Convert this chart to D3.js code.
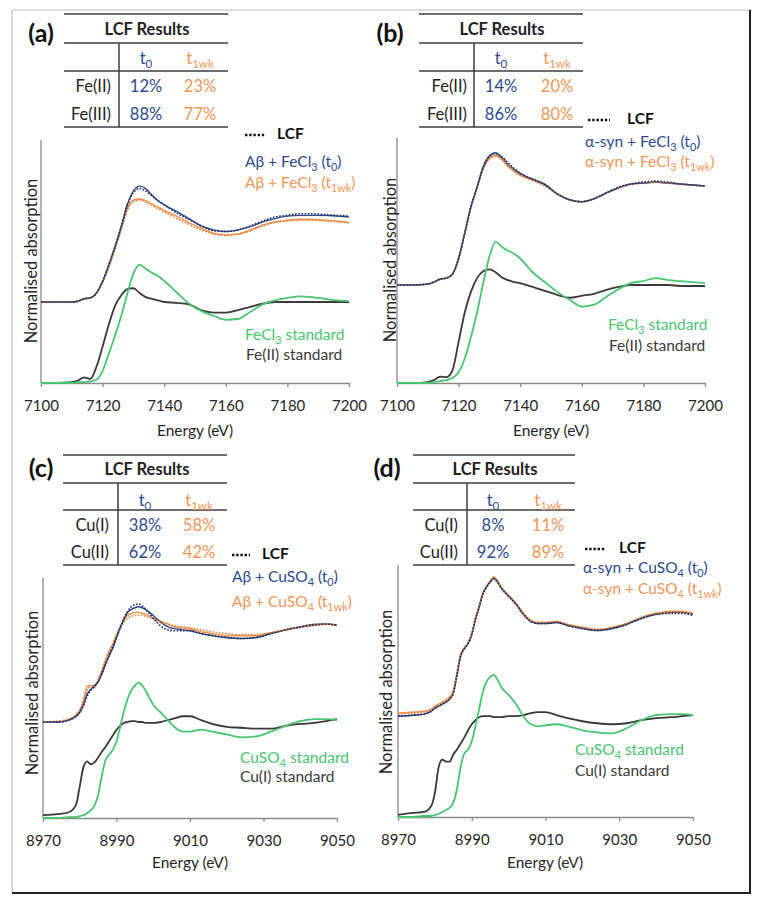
<!DOCTYPE html>
<html><head><meta charset="utf-8">
<script src="https://cdn.jsdelivr.net/npm/d3@7"></script>
<style>body{margin:0;background:#fff}svg{display:block;font-family:Lato,"Open Sans",sans-serif}</style>
</head><body><svg id="c" width="760" height="903"></svg>
<script>
// ---------- DATA ----------
const feEnergy = [7100,7105,7110,7112,7114,7116,7118,7120,7122,7124,7126,7128,7130,7132,7134,7136,7138,7140,7144,7148,7152,7156,7160,7164,7168,7172,7176,7180,7184,7188,7192,7196,7200];
const cuEnergy = [8970,8974,8977,8979,8980,8981,8982,8983,8984,8985,8986,8987,8988,8989,8990,8991,8992,8993,8994,8995,8996,8997,8998,9000,9002,9004,9006,9008,9010,9013,9016,9020,9024,9028,9032,9036,9040,9044,9047,9050];
const feTicks = [7100,7120,7140,7160,7180,7200];
const cuTicks = [8970,8990,9010,9030,9050];

// Panel (a) Aβ + FeCl3
const aFeII  = [0,0,0.01,0.03,0.07,0.05,0.2,0.45,0.72,0.95,1.08,1.16,1.17,1.11,1.06,1.04,1.02,1.0,0.99,0.97,0.9,0.87,0.87,0.9,0.94,0.98,1.0,1.0,1.0,1.0,1.0,1.0,1.0];
const aFeCl3 = [0,0,0,0.01,0.01,0.02,0.04,0.15,0.36,0.58,0.82,1.1,1.35,1.46,1.41,1.36,1.32,1.26,1.12,0.98,0.89,0.83,0.78,0.79,0.88,0.97,1.02,1.05,1.07,1.06,1.04,1.02,1.01];
const aT0    = [0,0,0,0.01,0.04,0.05,0.11,0.25,0.45,0.68,0.92,1.2,1.37,1.43,1.4,1.32,1.25,1.2,1.12,1.03,0.94,0.89,0.87,0.89,0.93,0.99,1.03,1.06,1.07,1.07,1.07,1.06,1.05];
const aT1wk  = [0,0,0,0.01,0.04,0.05,0.11,0.25,0.44,0.66,0.9,1.15,1.26,1.27,1.25,1.21,1.17,1.13,1.06,0.98,0.91,0.85,0.83,0.84,0.89,0.95,0.99,1.01,1.02,1.02,1.01,1.0,0.98];
const aFitT0 = [0,0,0,0.01,0.04,0.05,0.11,0.26,0.46,0.68,0.93,1.19,1.35,1.4,1.37,1.31,1.25,1.2,1.1,1.02,0.94,0.88,0.87,0.89,0.94,1.0,1.05,1.07,1.09,1.09,1.08,1.07,1.06];
const aFitT1 = [0,0,0,0.01,0.04,0.05,0.1,0.24,0.43,0.65,0.89,1.13,1.24,1.26,1.23,1.19,1.15,1.11,1.03,0.96,0.89,0.84,0.82,0.84,0.88,0.94,0.98,1.0,1.01,1.01,1.0,0.99,0.98];

// Panel (b) α-syn + FeCl3
const bFeII  = [0,0,0.01,0.03,0.065,0.06,0.13,0.42,0.72,0.93,1.07,1.14,1.16,1.13,1.08,1.05,1.03,1.02,0.98,0.94,0.9,0.87,0.89,0.91,0.95,0.98,1.0,1.0,1.0,1.0,0.99,0.99,0.99];
const bFeCl3 = [0,0,0,0.01,0.02,0.03,0.05,0.11,0.25,0.47,0.72,1.02,1.29,1.44,1.39,1.35,1.32,1.27,1.13,1.03,0.93,0.85,0.78,0.8,0.88,0.96,1.02,1.04,1.07,1.05,1.04,1.03,1.02];
const bT0    = [0,0,0.01,0.03,0.06,0.07,0.11,0.27,0.53,0.8,1.0,1.21,1.32,1.35,1.3,1.23,1.18,1.14,1.08,1.03,0.93,0.87,0.85,0.88,0.94,0.99,1.03,1.04,1.05,1.04,1.03,1.02,1.01];
const bT1wk  = [0,0,0.01,0.03,0.06,0.07,0.11,0.27,0.53,0.79,0.99,1.19,1.29,1.32,1.28,1.21,1.16,1.12,1.07,1.02,0.93,0.87,0.85,0.88,0.94,0.99,1.03,1.04,1.05,1.04,1.03,1.02,1.01];
const bFitT0 = [0,0,0.01,0.03,0.06,0.07,0.11,0.27,0.53,0.8,1.0,1.2,1.31,1.34,1.31,1.25,1.19,1.14,1.08,1.02,0.93,0.87,0.85,0.88,0.94,1.0,1.03,1.05,1.06,1.05,1.03,1.02,1.01];
const bFitT1 = [0,0,0.01,0.03,0.06,0.07,0.11,0.27,0.52,0.79,0.99,1.19,1.29,1.32,1.29,1.23,1.17,1.13,1.07,1.01,0.93,0.87,0.85,0.88,0.94,0.99,1.03,1.05,1.05,1.04,1.03,1.02,1.01];

// Panel (c) Aβ + CuSO4
const cCuI   = [0.03,0.04,0.06,0.14,0.33,0.53,0.59,0.56,0.58,0.63,0.69,0.74,0.8,0.86,0.92,0.96,0.99,1.0,1.01,1.01,1.0,1.0,0.99,0.99,1.0,1.02,1.04,1.06,1.06,1.02,0.98,0.95,0.94,0.93,0.93,0.96,0.98,0.99,1.01,1.03];
const cCuSO4 = [0,0,0.01,0.01,0.02,0.03,0.05,0.08,0.13,0.24,0.44,0.6,0.66,0.71,0.8,0.95,1.11,1.24,1.33,1.38,1.41,1.38,1.32,1.18,1.1,1.02,0.94,0.9,0.9,0.92,0.9,0.87,0.84,0.85,0.9,0.96,1.01,1.03,1.03,1.02];
const cT0    = [0,0,0.02,0.06,0.1,0.18,0.29,0.34,0.38,0.42,0.5,0.6,0.69,0.77,0.88,0.98,1.07,1.14,1.17,1.19,1.2,1.19,1.17,1.11,1.04,0.99,0.97,0.96,0.95,0.92,0.9,0.88,0.87,0.88,0.92,0.96,0.99,1.02,1.02,1.01];
const cT1wk  = [0,0,0.02,0.07,0.12,0.22,0.37,0.38,0.36,0.43,0.53,0.64,0.73,0.81,0.9,0.99,1.06,1.11,1.13,1.14,1.14,1.13,1.12,1.08,1.05,1.02,0.99,0.98,0.97,0.94,0.92,0.9,0.9,0.9,0.93,0.96,0.99,1.01,1.02,1.01];
const cFitT0 = [0,0,0.02,0.06,0.1,0.17,0.27,0.33,0.37,0.42,0.5,0.6,0.69,0.78,0.88,0.98,1.08,1.15,1.2,1.22,1.23,1.21,1.17,1.08,1.0,0.96,0.95,0.95,0.95,0.92,0.9,0.88,0.87,0.88,0.92,0.96,0.99,1.01,1.02,1.01];
const cFitT1 = [0,0.01,0.03,0.08,0.13,0.22,0.33,0.37,0.38,0.44,0.54,0.65,0.74,0.82,0.9,0.98,1.04,1.08,1.1,1.11,1.11,1.11,1.1,1.07,1.04,1.02,1.0,0.99,0.98,0.96,0.94,0.92,0.91,0.91,0.93,0.96,0.99,1.01,1.02,1.01];

// Panel (d) α-syn + CuSO4
const dCuI   = [0.02,0.04,0.05,0.11,0.24,0.49,0.57,0.55,0.55,0.62,0.67,0.73,0.79,0.86,0.92,0.96,0.99,1.0,1.0,1.0,0.99,0.99,0.99,1.0,1.0,1.01,1.03,1.04,1.04,1.01,0.98,0.95,0.93,0.92,0.93,0.96,0.98,0.99,1.0,1.01];
const dCuSO4 = [0,0,0.01,0.01,0.02,0.03,0.05,0.07,0.09,0.14,0.28,0.5,0.63,0.67,0.75,0.9,1.07,1.24,1.34,1.39,1.41,1.36,1.29,1.21,1.12,1.0,0.92,0.9,0.91,0.92,0.9,0.86,0.84,0.83,0.88,0.96,1.01,1.02,1.02,1.01];
const dT0    = [0.0,0.01,0.02,0.05,0.08,0.1,0.12,0.14,0.17,0.23,0.41,0.6,0.67,0.72,0.81,0.96,1.08,1.21,1.28,1.33,1.37,1.33,1.27,1.19,1.11,1.01,0.94,0.92,0.92,0.93,0.9,0.87,0.85,0.87,0.91,0.97,1.01,1.03,1.03,1.01];
const dT1wk  = [0.03,0.04,0.05,0.07,0.1,0.12,0.14,0.16,0.19,0.25,0.43,0.61,0.68,0.73,0.82,0.97,1.09,1.22,1.29,1.34,1.38,1.34,1.28,1.2,1.12,1.02,0.95,0.93,0.93,0.94,0.91,0.88,0.86,0.88,0.92,0.98,1.02,1.04,1.04,1.02];
const dFitT0 = [0.0,0.01,0.02,0.05,0.08,0.1,0.12,0.14,0.17,0.23,0.41,0.6,0.67,0.72,0.81,0.96,1.08,1.21,1.28,1.33,1.36,1.33,1.27,1.19,1.11,1.01,0.94,0.92,0.92,0.93,0.9,0.87,0.85,0.87,0.91,0.97,1.01,1.02,1.02,1.0];
const dFitT1 = [0.02,0.03,0.04,0.06,0.09,0.11,0.13,0.15,0.18,0.24,0.42,0.61,0.68,0.73,0.82,0.97,1.09,1.22,1.29,1.34,1.38,1.34,1.28,1.2,1.12,1.02,0.95,0.93,0.93,0.94,0.91,0.88,0.86,0.88,0.92,0.98,1.02,1.03,1.03,1.02];

// LCF result tables
const feRows = ["Fe(II)", "Fe(III)"];
const cuRows = ["Cu(I)", "Cu(II)"];
const aLcfT0 = ["12%", "88%"], aLcfT1 = ["23%", "77%"];
const bLcfT0 = ["14%", "86%"], bLcfT1 = ["20%", "80%"];
const cLcfT0 = ["38%", "62%"], cLcfT1 = ["58%", "42%"];
const dLcfT0 = ["8%", "92%"],  dLcfT1 = ["11%", "89%"];

// ---------- STYLE ----------
const NAVY = "#2c4a8e", ORANGE = "#f39556", GREEN = "#47c56f", DARK = "#3a3a3a", AXIS = "#8a8a8a";
const FS_LEG = 15.5, FS_TAB = 16.5, FS_TICK = 15, FS_AX = 15.5, FS_YLAB = 16.5;

const svg = d3.select("#c");

// outer frame
svg.append("line").attr("x1",12).attr("y1",10).attr("x2",750).attr("y2",10).attr("stroke","#bdbdbd").attr("stroke-width",1.2);
svg.append("line").attr("x1",12).attr("y1",10).attr("x2",12).attr("y2",893).attr("stroke","#bdbdbd").attr("stroke-width",1.2);
svg.append("line").attr("x1",750).attr("y1",10).attr("x2",750).attr("y2",894).attr("stroke","#222").attr("stroke-width",2);
svg.append("line").attr("x1",12).attr("y1",893).attr("x2",751).attr("y2",893).attr("stroke","#222").attr("stroke-width",2);

// helper: text with subscripts; parts = [[text, isSub], ...]
function richText(g, x, y, parts, opts) {
  const size = opts.size || FS_LEG;
  const t = g.append("text").attr("x", x).attr("y", y)
    .attr("font-size", size).attr("fill", opts.fill || "#222")
    .attr("font-weight", opts.weight || "normal")
    .attr("text-anchor", opts.anchor || "start");
  let sub = false;
  parts.forEach(([s, isSub]) => {
    const ts = t.append("tspan").text(s);
    if (isSub && !sub) { ts.attr("dy", 3.5).attr("font-size", size * 0.7); sub = true; }
    else if (!isSub && sub) { ts.attr("dy", -3.5); sub = false; }
    else if (isSub) ts.attr("font-size", size * 0.7);
  });
  return t;
}

const panels = [
  { label:"(a)", lx:41, ly:33, energy:feEnergy, ticks:feTicks, xd:[7100,7200], xr:[41,349], yd:[0,3], yr:[383,140],
    std1:aFeCl3, std2:aFeII, t0:aT0, t1:aT1wk, f0:aFitT0, f1:aFitT1,
    rows:feRows, v0:aLcfT0, v1:aLcfT1,
    tab:{x0:64,x1:228,xv:119,y:[14,43,71,127],tcx:147,tcy:29,hcy:58,c1:146,c2:200,rr:111,ry:[86,114]},
    ylab:[31,261], xlab:[195,436],
    leg:{dx:245,dx2:266,dy:133,lcfx:277,t0x:245,t0y:162,t1x:245,t1y:183,s1x:245,s1y:335,s2x:246,s2y:355},
    sample:"Aβ + ", salt:[["FeCl",false],["3",true]], std1Name:[["FeCl",false],["3",true],[" standard",false]], std2Name:[["Fe(II) standard",false]] },
  { label:"(b)", lx:390, ly:33, energy:feEnergy, ticks:feTicks, xd:[7100,7200], xr:[397,705], yd:[0,2.5], yr:[383,138],
    std1:bFeCl3, std2:bFeII, t0:bT0, t1:bT1wk, f0:bFitT0, f1:bFitT1,
    rows:feRows, v0:bLcfT0, v1:bLcfT1,
    tab:{x0:419,x1:583,xv:474,y:[14,43,71,127],tcx:502,tcy:29,hcy:58,c1:501,c2:557,rr:467,ry:[86,114]},
    ylab:[390,260], xlab:[551,436],
    leg:{dx:588,dx2:610,dy:118,lcfx:627,t0x:585,t0y:142,t1x:585,t1y:162,s1x:608,s1y:325,s2x:609,s2y:346},
    sample:"α-syn + ", salt:[["FeCl",false],["3",true]], std1Name:[["FeCl",false],["3",true],[" standard",false]], std2Name:[["Fe(II) standard",false]] },
  { label:"(c)", lx:41, ly:468, energy:cuEnergy, ticks:cuTicks, xd:[8970,9050], xr:[43,337], yd:[0,2.5], yr:[818,578],
    std1:cCuSO4, std2:cCuI, t0:cT0, t1:cT1wk, f0:cFitT0, f1:cFitT1,
    rows:cuRows, v0:cLcfT0, v1:cLcfT1,
    tab:{x0:63,x1:227,xv:118,y:[455,483,510,565],tcx:147,tcy:469,hcy:500,c1:145,c2:199,rr:109,ry:[525,552]},
    ylab:[32,693], xlab:[190,868],
    leg:{dx:232,dx2:250,dy:553,lcfx:262,t0x:232,t0y:577,t1x:232,t1y:602,s1x:240,s1y:758,s2x:240,s2y:777},
    sample:"Aβ + ", salt:[["CuSO",false],["4",true]], std1Name:[["CuSO",false],["4",true],[" standard",false]], std2Name:[["Cu(I) standard",false]] },
  { label:"(d)", lx:387, ly:468, energy:cuEnergy, ticks:cuTicks, xd:[8970,9050], xr:[398,693], yd:[0,2.5], yr:[817,565],
    std1:dCuSO4, std2:dCuI, t0:dT0, t1:dT1wk, f0:dFitT0, f1:dFitT1,
    rows:cuRows, v0:dLcfT0, v1:dLcfT1,
    tab:{x0:413,x1:575,xv:467,y:[455,483,510,565],tcx:495,tcy:469,hcy:500,c1:493,c2:548,rr:458,ry:[525,552]},
    ylab:[386,692], xlab:[545,868],
    leg:{dx:585,dx2:605,dy:547,lcfx:619,t0x:583,t0y:568,t1x:583,t1y:589,s1x:575,s1y:750,s2x:575,s2y:771},
    sample:"α-syn + ", salt:[["CuSO",false],["4",true]], std1Name:[["CuSO",false],["4",true],[" standard",false]], std2Name:[["Cu(I) standard",false]] }
];

panels.forEach(p => {
  const g = svg.append("g");
  const x = d3.scaleLinear().domain(p.xd).range(p.xr);
  const y = d3.scaleLinear().domain(p.yd).range(p.yr);
  const OFFSET = 1; // vertical offset of sample spectra above standards

  // axes
  const xa = g.append("g").attr("transform", `translate(0,${p.yr[0]})`)
    .call(d3.axisBottom(x).tickValues(p.ticks).tickSize(4).tickSizeOuter(0).tickPadding(13).tickFormat(d3.format("d")));
  xa.select(".domain").attr("stroke", AXIS).attr("stroke-width", 1.3);
  xa.selectAll(".tick line").attr("stroke", AXIS).attr("stroke-width", 1.3);
  xa.selectAll(".tick text").attr("font-size", FS_TICK).attr("fill", "#262626").attr("font-family", "Lato,'Open Sans',sans-serif");
  g.append("line").attr("x1", p.xr[0]).attr("x2", p.xr[0]).attr("y1", p.yr[0]).attr("y2", p.yr[1])
    .attr("stroke", AXIS).attr("stroke-width", 1.3);

  g.append("text").attr("x", p.xlab[0]).attr("y", p.xlab[1]).attr("text-anchor", "middle")
    .attr("font-size", FS_AX).attr("fill", "#262626").text("Energy (eV)");
  g.append("text").attr("transform", `translate(${p.ylab[0]},${p.ylab[1]}) rotate(-90)`)
    .attr("text-anchor", "middle").attr("dominant-baseline", "central")
    .attr("font-size", FS_YLAB).attr("fill", "#262626").text("Normalised absorption");

  // curves
  const line = (off) => d3.line().x((d, i) => x(p.energy[i])).y(d => y(d + off)).curve(d3.curveMonotoneX);
  g.append("path").datum(p.std2).attr("d", line(0)).attr("fill","none").attr("stroke", DARK).attr("stroke-width", 1.8);
  g.append("path").datum(p.std1).attr("d", line(0)).attr("fill","none").attr("stroke", GREEN).attr("stroke-width", 1.8);
  g.append("path").datum(p.t1).attr("d", line(OFFSET)).attr("fill","none").attr("stroke", ORANGE).attr("stroke-width", 1.6);
  g.append("path").datum(p.t0).attr("d", line(OFFSET)).attr("fill","none").attr("stroke", NAVY).attr("stroke-width", 1.4);
  g.append("path").datum(p.f1).attr("d", line(OFFSET)).attr("fill","none").attr("stroke", "#e0803e").attr("stroke-width", 1.6).attr("stroke-dasharray", "1.6,1.6");
  g.append("path").datum(p.f0).attr("d", line(OFFSET)).attr("fill","none").attr("stroke", "#1b2a55").attr("stroke-width", 1.6).attr("stroke-dasharray", "1.6,1.6");

  // panel label
  g.append("text").attr("x", p.lx).attr("y", p.ly + 9).attr("text-anchor", "middle")
    .attr("font-size", 25).attr("font-weight", "bold").attr("fill", "#111").text(p.label);

  // table
  const T = p.tab;
  [0,1,2,3].forEach(k => g.append("line").attr("x1", T.x0).attr("x2", T.x1).attr("y1", T.y[k]).attr("y2", T.y[k]).attr("stroke", "#3c3c3c").attr("stroke-width", 1.5));
  g.append("line").attr("x1", T.xv).attr("x2", T.xv).attr("y1", T.y[1]).attr("y2", T.y[3]).attr("stroke", "#3c3c3c").attr("stroke-width", 1.5);
  g.append("text").attr("x", T.tcx).attr("y", T.tcy + 6).attr("text-anchor", "middle").attr("font-size", FS_TAB).attr("font-weight", "bold").attr("fill", "#222").text("LCF Results");
  richText(g, T.c1, T.hcy + 6, [["t",false],["0",true]], {fill: NAVY, anchor:"middle", size:FS_TAB});
  richText(g, T.c2, T.hcy + 6, [["t",false],["1wk",true]], {fill: ORANGE, anchor:"middle", size:FS_TAB});
  p.rows.forEach((r, i) => {
    g.append("text").attr("x", T.rr).attr("y", T.ry[i] + 6).attr("text-anchor", "end").attr("font-size", FS_TAB).attr("fill", "#222").text(r);
    g.append("text").attr("x", T.c1).attr("y", T.ry[i] + 6).attr("text-anchor", "middle").attr("font-size", FS_TAB).attr("fill", NAVY).text(p.v0[i]);
    g.append("text").attr("x", T.c2).attr("y", T.ry[i] + 6).attr("text-anchor", "middle").attr("font-size", FS_TAB).attr("fill", ORANGE).text(p.v1[i]);
  });

  // legend
  const L = p.leg;
  g.append("line").attr("x1", L.dx).attr("x2", L.dx2).attr("y1", L.dy + 2).attr("y2", L.dy + 2)
    .attr("stroke", "#111").attr("stroke-width", 2.6).attr("stroke-dasharray", "2.4,1.8");
  g.append("text").attr("x", L.lcfx).attr("y", L.dy + 6).attr("font-size", FS_LEG).attr("font-weight", "bold").attr("fill", "#111").text("LCF");
  richText(g, L.t0x, L.t0y + 5, [[p.sample,false], ...p.salt, [" (t",false],["0",true],[")",false]], {fill: NAVY});
  richText(g, L.t1x, L.t1y + 5, [[p.sample,false], ...p.salt, [" (t",false],["1wk",true],[")",false]], {fill: ORANGE});
  richText(g, L.s1x, L.s1y + 5, p.std1Name, {fill: GREEN});
  richText(g, L.s2x, L.s2y + 5, p.std2Name, {fill: DARK});
});
</script></body></html>
